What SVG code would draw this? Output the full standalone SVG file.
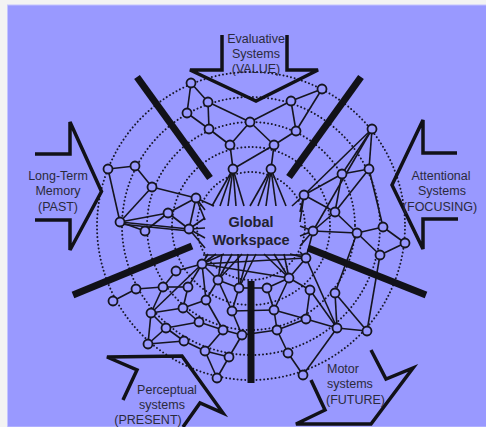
<svg xmlns="http://www.w3.org/2000/svg" width="486" height="427" viewBox="0 0 486 427">
<style>
.ring{fill:none;stroke:#17172a;stroke-width:2;stroke-dasharray:0.01 3.8;stroke-linecap:round}
.bar{stroke:#111118;stroke-width:7;fill:none}
.edge line{stroke:#15151f;stroke-width:1.6}
.node circle{fill:#9999ff;stroke:#15151f;stroke-width:1.8}
.arrow{fill:none;stroke:#111118;stroke-width:3.5;stroke-linejoin:miter}
.lbl{font-family:"Liberation Sans",Arial,sans-serif;font-size:12.5px;fill:#2a2a3c;text-anchor:middle}
.gw{font-family:"Liberation Sans",Arial,sans-serif;font-size:14.5px;font-weight:bold;fill:#22222f;text-anchor:middle}
</style>
<rect x="0" y="0" width="486" height="427" fill="#f3f3f3"/>
<rect x="7.5" y="5" width="479" height="422" fill="#9999ff" stroke="#c4c4ff" stroke-width="1"/>
<g id="rings">
<circle class="ring" cx="251" cy="226" r="154"/>
<circle class="ring" cx="251" cy="226" r="129"/>
<circle class="ring" cx="251" cy="226" r="104"/>
<circle class="ring" cx="251" cy="226" r="79"/>
<circle class="ring" cx="251" cy="226" r="54"/>
</g>
<g id="connectors" class="edge">
<line x1="191" y1="83" x2="208" y2="102"/><line x1="191" y1="83" x2="187" y2="113"/><line x1="187" y1="113" x2="209" y2="129"/><line x1="208" y1="102" x2="209" y2="129"/><line x1="208" y1="102" x2="250" y2="122"/><line x1="209" y1="129" x2="230" y2="145"/><line x1="230" y1="145" x2="233" y2="169"/><line x1="230" y1="145" x2="250" y2="122"/><line x1="250" y1="122" x2="291" y2="101"/><line x1="291" y1="101" x2="322" y2="89"/><line x1="291" y1="101" x2="296" y2="131"/><line x1="322" y1="89" x2="296" y2="131"/><line x1="250" y1="122" x2="274" y2="145"/><line x1="296" y1="131" x2="274" y2="145"/><line x1="274" y1="145" x2="271" y2="169"/><line x1="233" y1="169" x2="274" y2="145"/>
<line x1="372" y1="129" x2="342" y2="174"/><line x1="372" y1="129" x2="369" y2="169"/><line x1="369" y1="169" x2="342" y2="174"/><line x1="372" y1="129" x2="304" y2="195"/><line x1="372" y1="129" x2="313" y2="231"/><line x1="342" y1="174" x2="304" y2="195"/><line x1="342" y1="174" x2="335" y2="212"/><line x1="304" y1="195" x2="335" y2="212"/><line x1="369" y1="169" x2="335" y2="212"/><line x1="369" y1="169" x2="383" y2="227"/>
<line x1="335" y1="212" x2="313" y2="231"/><line x1="335" y1="212" x2="357" y2="233"/><line x1="313" y1="231" x2="357" y2="233"/><line x1="357" y1="233" x2="383" y2="227"/><line x1="357" y1="233" x2="380" y2="255"/><line x1="383" y1="227" x2="405" y2="243"/><line x1="405" y1="243" x2="380" y2="255"/><line x1="313" y1="231" x2="306" y2="258"/>
<line x1="306" y1="258" x2="289" y2="278"/><line x1="306" y1="258" x2="337" y2="328"/><line x1="310" y1="290" x2="337" y2="328"/><line x1="335" y1="293" x2="337" y2="328"/><line x1="335" y1="293" x2="367" y2="331"/><line x1="337" y1="328" x2="367" y2="331"/><line x1="306" y1="319" x2="337" y2="328"/><line x1="274" y1="310" x2="306" y2="319"/><line x1="289" y1="278" x2="274" y2="310"/><line x1="289" y1="278" x2="310" y2="290"/><line x1="310" y1="290" x2="306" y2="319"/><line x1="274" y1="310" x2="277" y2="330"/><line x1="277" y1="330" x2="288" y2="353"/><line x1="288" y1="353" x2="303" y2="375"/><line x1="303" y1="375" x2="337" y2="328"/><line x1="232" y1="311" x2="274" y2="310"/><line x1="242" y1="335" x2="277" y2="330"/><line x1="267" y1="288" x2="274" y2="310"/><line x1="267" y1="288" x2="289" y2="278"/><line x1="357" y1="233" x2="335" y2="293"/><line x1="380" y1="255" x2="367" y2="331"/><line x1="239" y1="288" x2="267" y2="288"/><line x1="277" y1="330" x2="306" y2="319"/>
<line x1="108" y1="169" x2="135" y2="166"/><line x1="135" y1="166" x2="152" y2="187"/><line x1="152" y1="187" x2="196" y2="198"/><line x1="108" y1="169" x2="120" y2="222"/><line x1="120" y1="222" x2="145" y2="231"/><line x1="120" y1="222" x2="168" y2="213"/><line x1="120" y1="222" x2="189" y2="229"/><line x1="120" y1="224" x2="189" y2="231"/><line x1="145" y1="231" x2="168" y2="213"/><line x1="168" y1="213" x2="196" y2="198"/><line x1="168" y1="213" x2="189" y2="229"/><line x1="196" y1="198" x2="189" y2="229"/><line x1="152" y1="187" x2="120" y2="222"/>
<line x1="113" y1="301" x2="136" y2="289"/><line x1="136" y1="289" x2="163" y2="287"/><line x1="163" y1="287" x2="176" y2="271"/><line x1="176" y1="271" x2="202" y2="264"/><line x1="163" y1="287" x2="188" y2="287"/><line x1="163" y1="287" x2="151" y2="313"/><line x1="151" y1="313" x2="202" y2="264"/><line x1="151" y1="313" x2="183" y2="308"/><line x1="151" y1="313" x2="166" y2="328"/><line x1="151" y1="313" x2="148" y2="344"/><line x1="166" y1="328" x2="148" y2="344"/><line x1="166" y1="328" x2="184" y2="341"/><line x1="184" y1="341" x2="205" y2="351"/><line x1="183" y1="308" x2="188" y2="287"/><line x1="183" y1="308" x2="206" y2="300"/><line x1="183" y1="308" x2="199" y2="322"/><line x1="188" y1="287" x2="202" y2="264"/><line x1="206" y1="300" x2="218" y2="280"/><line x1="206" y1="300" x2="202" y2="264"/><line x1="199" y1="322" x2="166" y2="328"/><line x1="199" y1="322" x2="223" y2="330"/><line x1="223" y1="330" x2="205" y2="351"/><line x1="223" y1="330" x2="206" y2="300"/><line x1="205" y1="351" x2="229" y2="357"/><line x1="229" y1="357" x2="217" y2="378"/><line x1="217" y1="378" x2="205" y2="351"/><line x1="223" y1="330" x2="242" y2="335"/><line x1="218" y1="280" x2="232" y2="311"/><line x1="218" y1="280" x2="202" y2="264"/><line x1="232" y1="311" x2="239" y2="288"/><line x1="232" y1="311" x2="242" y2="335"/><line x1="242" y1="335" x2="229" y2="357"/><line x1="184" y1="341" x2="148" y2="344"/><line x1="218" y1="280" x2="239" y2="288"/><line x1="202" y1="264" x2="306" y2="258"/><line x1="202" y1="264" x2="289" y2="278"/>
<line x1="233" y1="169" x2="212" y2="206"/><line x1="233" y1="169" x2="220" y2="206"/><line x1="233" y1="169" x2="228" y2="206"/><line x1="233" y1="169" x2="236" y2="206"/><line x1="233" y1="169" x2="244" y2="206"/>
<line x1="271" y1="169" x2="250" y2="206"/><line x1="271" y1="169" x2="258" y2="206"/><line x1="271" y1="169" x2="266" y2="206"/><line x1="271" y1="169" x2="276" y2="206"/><line x1="271" y1="169" x2="286" y2="206"/>
<line x1="196" y1="198" x2="205" y2="210"/><line x1="196" y1="198" x2="214" y2="206"/><line x1="196" y1="198" x2="205" y2="220"/>
<line x1="189" y1="229" x2="205" y2="218"/><line x1="189" y1="229" x2="205" y2="228"/><line x1="189" y1="229" x2="205" y2="238"/><line x1="189" y1="229" x2="205" y2="248"/>
<line x1="304" y1="195" x2="292" y2="206"/><line x1="304" y1="195" x2="300" y2="212"/><line x1="304" y1="195" x2="300" y2="222"/>
<line x1="313" y1="231" x2="300" y2="226"/><line x1="313" y1="231" x2="300" y2="236"/><line x1="313" y1="231" x2="300" y2="246"/>
<line x1="306" y1="258" x2="300" y2="252"/><line x1="306" y1="258" x2="290" y2="254"/>
<line x1="202" y1="264" x2="208" y2="254"/><line x1="202" y1="264" x2="216" y2="254"/><line x1="202" y1="264" x2="224" y2="254"/>
<line x1="218" y1="280" x2="222" y2="254"/><line x1="218" y1="280" x2="232" y2="254"/><line x1="218" y1="280" x2="242" y2="254"/>
<line x1="239" y1="288" x2="238" y2="254"/><line x1="239" y1="288" x2="248" y2="254"/><line x1="239" y1="288" x2="256" y2="254"/>
<line x1="289" y1="278" x2="264" y2="254"/><line x1="289" y1="278" x2="274" y2="254"/><line x1="289" y1="278" x2="284" y2="254"/>
<line x1="203" y1="255" x2="303" y2="255"/>
</g>
<g id="bars">
<line class="bar" x1="137" y1="77" x2="210" y2="178"/>
<line class="bar" x1="361" y1="77" x2="289" y2="177"/>
<line class="bar" x1="73" y1="295" x2="192" y2="246"/>
<line class="bar" x1="308" y1="248" x2="426" y2="295"/>
<line class="bar" x1="251" y1="281" x2="251" y2="383"/>
</g>
<g id="nodes" class="node">
<g id="n1"><circle cx="191" cy="83" r="4.5"/></g>
<g id="n2"><circle cx="208" cy="102" r="4.5"/></g>
<g id="n3"><circle cx="187" cy="113" r="4.5"/></g>
<g id="n4"><circle cx="209" cy="129" r="4.5"/></g>
<g id="n5"><circle cx="230" cy="145" r="4.5"/></g>
<g id="n6"><circle cx="233" cy="169" r="4.5"/></g>
<g id="n7"><circle cx="250" cy="122" r="4.5"/></g>
<g id="n8"><circle cx="291" cy="101" r="4.5"/></g>
<g id="n9"><circle cx="322" cy="89" r="4.5"/></g>
<g id="n10"><circle cx="296" cy="131" r="4.5"/></g>
<g id="n11"><circle cx="274" cy="145" r="4.5"/></g>
<g id="n12"><circle cx="271" cy="169" r="4.5"/></g>
<g id="n13"><circle cx="372" cy="129" r="4.5"/></g>
<g id="n14"><circle cx="369" cy="169" r="4.5"/></g>
<g id="n15"><circle cx="342" cy="174" r="4.5"/></g>
<g id="n16"><circle cx="304" cy="195" r="4.5"/></g>
<g id="n17"><circle cx="335" cy="212" r="4.5"/></g>
<g id="n18"><circle cx="313" cy="231" r="4.5"/></g>
<g id="n19"><circle cx="357" cy="233" r="4.5"/></g>
<g id="n20"><circle cx="383" cy="227" r="4.5"/></g>
<g id="n21"><circle cx="405" cy="243" r="4.5"/></g>
<g id="n22"><circle cx="380" cy="255" r="4.5"/></g>
<g id="n23"><circle cx="306" cy="258" r="4.5"/></g>
<g id="n24"><circle cx="289" cy="278" r="4.5"/></g>
<g id="n25"><circle cx="310" cy="290" r="4.5"/></g>
<g id="n26"><circle cx="335" cy="293" r="4.5"/></g>
<g id="n27"><circle cx="267" cy="288" r="4.5"/></g>
<g id="n28"><circle cx="274" cy="310" r="4.5"/></g>
<g id="n29"><circle cx="306" cy="319" r="4.5"/></g>
<g id="n30"><circle cx="337" cy="328" r="4.5"/></g>
<g id="n31"><circle cx="367" cy="331" r="4.5"/></g>
<g id="n32"><circle cx="277" cy="330" r="4.5"/></g>
<g id="n33"><circle cx="288" cy="353" r="4.5"/></g>
<g id="n34"><circle cx="303" cy="375" r="4.5"/></g>
<g id="n35"><circle cx="239" cy="288" r="4.5"/></g>
<g id="n36"><circle cx="232" cy="311" r="4.5"/></g>
<g id="n37"><circle cx="242" cy="335" r="4.5"/></g>
<g id="n38"><circle cx="229" cy="357" r="4.5"/></g>
<g id="n39"><circle cx="217" cy="378" r="4.5"/></g>
<g id="n40"><circle cx="108" cy="169" r="4.5"/></g>
<g id="n41"><circle cx="135" cy="166" r="4.5"/></g>
<g id="n42"><circle cx="152" cy="187" r="4.5"/></g>
<g id="n43"><circle cx="196" cy="198" r="4.5"/></g>
<g id="n44"><circle cx="120" cy="222" r="4.5"/></g>
<g id="n45"><circle cx="145" cy="231" r="4.5"/></g>
<g id="n46"><circle cx="168" cy="213" r="4.5"/></g>
<g id="n47"><circle cx="189" cy="229" r="4.5"/></g>
<g id="n48"><circle cx="202" cy="264" r="4.5"/></g>
<g id="n49"><circle cx="176" cy="271" r="4.5"/></g>
<g id="n50"><circle cx="218" cy="280" r="4.5"/></g>
<g id="n51"><circle cx="163" cy="287" r="4.5"/></g>
<g id="n52"><circle cx="188" cy="287" r="4.5"/></g>
<g id="n53"><circle cx="136" cy="289" r="4.5"/></g>
<g id="n54"><circle cx="113" cy="301" r="4.5"/></g>
<g id="n55"><circle cx="206" cy="300" r="4.5"/></g>
<g id="n56"><circle cx="151" cy="313" r="4.5"/></g>
<g id="n57"><circle cx="183" cy="308" r="4.5"/></g>
<g id="n58"><circle cx="199" cy="322" r="4.5"/></g>
<g id="n59"><circle cx="166" cy="328" r="4.5"/></g>
<g id="n60"><circle cx="223" cy="330" r="4.5"/></g>
<g id="n61"><circle cx="184" cy="341" r="4.5"/></g>
<g id="n62"><circle cx="148" cy="344" r="4.5"/></g>
<g id="n63"><circle cx="205" cy="351" r="4.5"/></g>
</g>
<g id="workspace">
<text class="gw" x="251" y="227">Global</text>
<text class="gw" x="251" y="245">Workspace</text>
</g>
<g id="evaluative">
<polyline class="arrow" points="222,35 222,70 190,70 256,101 318,70 287,70 287,35"/>
<text class="lbl" x="256" y="43">Evaluative</text>
<text class="lbl" x="256" y="58">Systems</text>
<text class="lbl" x="256" y="73">(VALUE)</text>
</g>
<g id="longterm">
<polyline class="arrow" points="35,154 70,154 70,122 101.5,191.5 70,250 70,220 35,220"/>
<text class="lbl" x="58" y="180">Long-Term</text>
<text class="lbl" x="58" y="195">Memory</text>
<text class="lbl" x="58" y="211">(PAST)</text>
</g>
<g id="attentional">
<polyline class="arrow" points="457,153 423,153 423,120 392,185 423,249 423,219 458,219"/>
<text class="lbl" x="441" y="180">Attentional</text>
<text class="lbl" x="442" y="195">Systems</text>
<text class="lbl" x="440" y="211">(FOCUSING)</text>
</g>
<g id="perceptual">
<polyline class="arrow" points="123,400 137,370 107,357 182,356 223,413 200,403 183,427"/>
<text class="lbl" x="167" y="394">Perceptual</text>
<text class="lbl" x="162" y="409">systems</text>
<text class="lbl" x="148" y="424">(PRESENT)</text>
</g>
<g id="motor">
<polyline class="arrow" points="311,380 325,410 296,424 371,424 413,368 386,379 371,350"/>
<text class="lbl" x="327" y="373" style="text-anchor:start">Motor</text>
<text class="lbl" x="327" y="388" style="text-anchor:start">systems</text>
<text class="lbl" x="326" y="404" style="text-anchor:start">(FUTURE)</text>
</g>
</svg>
